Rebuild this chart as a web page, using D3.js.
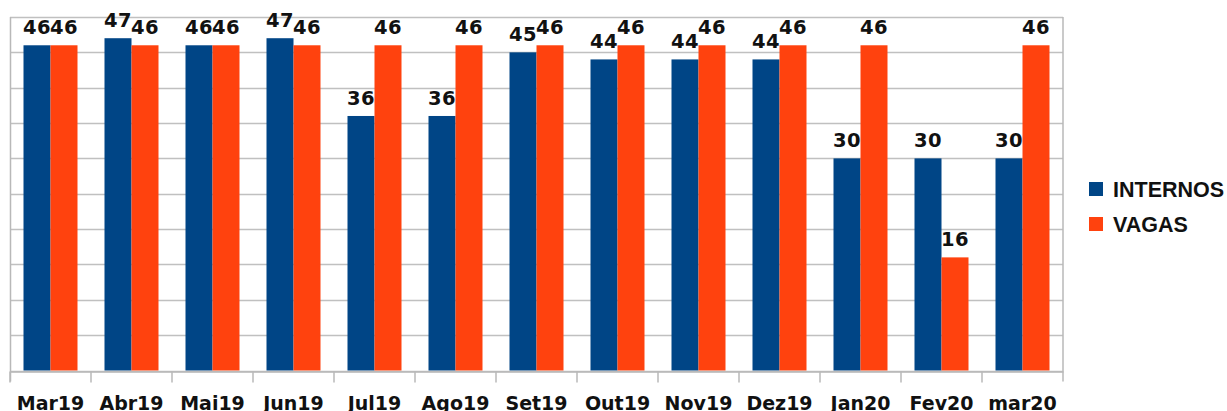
<!DOCTYPE html>
<html>
<head>
<meta charset="utf-8">
<script src="https://cdn.jsdelivr.net/npm/d3@7"></script>
<style>
	body { margin: 0; background: #fff; }
	svg { display: block; }
</style>
</head>
<body>
<svg id="chart" width="1227" height="411"></svg>
<script>
const months = ["Mar19", "Abr19", "Mai19", "Jun19", "Jul19", "Ago19", "Set19", "Out19", "Nov19", "Dez19", "Jan20", "Fev20", "mar20"];
const internos = [46, 47, 46, 47, 36, 36, 45, 44, 44, 44, 30, 30, 30];
const vagas = [46, 46, 46, 46, 46, 46, 46, 46, 46, 46, 46, 16, 46];
const seriesNames = ["INTERNOS", "VAGAS"];
const seriesColors = ["#004586", "#ff420e"];
const yTicks = d3.range(0, 51, 5);

const svg = d3.select("#chart");
const plotLeft = 10, plotRight = 1063, plotTop = 17, plotBottom = 370.5;

const x = d3.scaleBand().domain(months).range([plotLeft, plotRight]).paddingInner(0).paddingOuter(0);
const xs = d3.scaleBand().domain(seriesNames).range([0, x.bandwidth()]).paddingInner(0).paddingOuter(0.5);
const y = d3.scaleLinear().domain([0, 50]).range([plotBottom, plotTop]);

// gridlines
svg.append("g")
	.selectAll("line")
	.data(yTicks)
	.enter()
	.append("line")
		.attr("x1", plotLeft).attr("x2", plotRight)
		.attr("y1", d => Math.round(y(d)) + 0.5)
		.attr("y2", d => Math.round(y(d)) + 0.5)
		.attr("stroke", "#c0c0c0")
		.attr("stroke-width", 1.5);

// bars
const groups = svg.append("g")
	.selectAll("g")
	.data(months.map((m, i) => ({ month: m, values: [internos[i], vagas[i]] })))
	.enter()
	.append("g")
		.attr("transform", d => "translate(" + x(d.month) + ",0)");

groups.selectAll("rect")
	.data(d => d.values.map((v, j) => ({ name: seriesNames[j], value: v, j: j })))
	.enter()
	.append("rect")
		.attr("x", d => xs(d.name))
		.attr("width", xs.bandwidth())
		.attr("y", d => y(d.value))
		.attr("height", d => y(0) - y(d.value))
		.attr("fill", d => seriesColors[d.j]);

groups.selectAll("text")
	.data(d => d.values.map((v, j) => ({ name: seriesNames[j], value: v })))
	.enter()
	.append("text")
		.attr("x", d => xs(d.name) + xs.bandwidth() / 2)
		.attr("y", d => y(d.value) - 11)
		.attr("text-anchor", "middle")
		.style("font-family", "DejaVu Sans")
		.style("font-weight", "bold")
		.style("font-size", "19.5px")
		.style("letter-spacing", "0.5px")
		.attr("fill", "#111")
		.text(d => d.value);

// frame
svg.append("line")
	.attr("x1", plotLeft + 0.5).attr("x2", plotLeft + 0.5)
	.attr("y1", plotTop).attr("y2", plotBottom + 11)
	.attr("stroke", "#b8b8b8").attr("stroke-width", 1.5);
svg.append("line")
	.attr("x1", plotRight).attr("x2", plotRight)
	.attr("y1", plotTop).attr("y2", plotBottom + 11)
	.attr("stroke", "#b8b8b8").attr("stroke-width", 1.5);

// x axis
const xAxis = d3.axisBottom(x).tickSize(0).tickPadding(0);
const xg = svg.append("g")
	.attr("transform", "translate(0," + (Math.round(plotBottom) + 0.5) + ")")
	.call(xAxis);
xg.select(".domain").attr("stroke", "#b8b8b8").attr("stroke-width", 1.5);
xg.selectAll(".tick line").remove();
xg.selectAll(".tick text")
	.attr("y", 38)
	.attr("dy", 0)
	.attr("fill", "#111")
	.style("font-family", "DejaVu Sans")
	.style("font-weight", "bold")
	.style("font-size", "19px");

xg.selectAll(".sep")
	.data(months)
	.enter()
	.append("line")
		.attr("x1", d => x(d)).attr("x2", d => x(d))
		.attr("y1", 0).attr("y2", 11)
		.attr("stroke", "#b8b8b8").attr("stroke-width", 1.5);

// legend
const legend = svg.append("g")
	.selectAll("g")
	.data(seriesNames)
	.enter()
	.append("g")
		.attr("transform", (d, i) => "translate(1089," + (182 + i * 35) + ")");
legend.append("rect")
	.attr("width", 14).attr("height", 14)
	.attr("fill", (d, i) => seriesColors[i]);
legend.append("text")
	.attr("x", 24)
	.attr("y", 14.5)
	.style("font-family", "Liberation Sans")
	.style("font-weight", "bold")
	.style("font-size", "21.5px")
	.attr("fill", "#111")
	.text(d => d);
</script>
</body>
</html>
